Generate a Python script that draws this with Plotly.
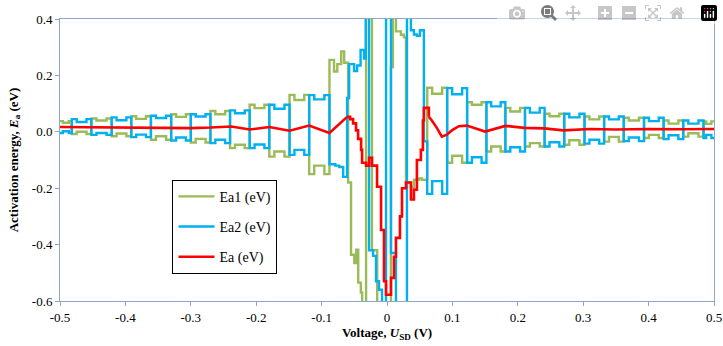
import plotly.graph_objects as go

# ---------------- data ----------------
# cell boundaries (V) of the alternating step pattern, left and right of the centre
left_bounds = [-0.5, -0.482, -0.452, -0.421, -0.391, -0.361, -0.330, -0.300,
               -0.270, -0.240, -0.210, -0.180, -0.149, -0.119, -0.088]
left_hi_edge = [0.038, 0.045, 0.047, 0.051, 0.055, 0.057, 0.062, 0.062,
                0.074, 0.076, 0.096, 0.096, 0.131, 0.130]
left_hi_mid = [0.032, 0.035, 0.040, 0.041, 0.046, 0.049, 0.053, 0.054,
               0.062, 0.066, 0.084, 0.082, 0.113, 0.115]
left_lo_edge = [-0.004, -0.008, -0.011, -0.016, -0.019, -0.028, -0.031, -0.038,
                -0.040, -0.058, -0.058, -0.088, -0.082, -0.150]
left_lo_mid = [0.002, 0.000, -0.004, -0.006, -0.010, -0.016, -0.020, -0.025,
               -0.028, -0.046, -0.045, -0.070, -0.064, -0.120]

right_bounds = [0.0615, 0.092, 0.1225, 0.152, 0.181, 0.211, 0.241, 0.271,
                0.302, 0.332, 0.362, 0.393, 0.423, 0.453, 0.484, 0.5]
right_hi_edge = [0.156, 0.155, 0.105, 0.105, 0.085, 0.085, 0.064, 0.064,
                 0.054, 0.054, 0.050, 0.050, 0.040, 0.040, 0.037]
right_hi_mid = [0.135, 0.133, 0.096, 0.090, 0.072, 0.068, 0.055, 0.051,
                0.044, 0.044, 0.040, 0.038, 0.029, 0.029, 0.028]
right_lo_edge = [-0.220, -0.110, -0.110, -0.070, -0.070, -0.052, -0.052, -0.046,
                 -0.042, -0.035, -0.033, -0.022, -0.026, -0.017, -0.022]
right_lo_mid = [-0.175, -0.085, -0.090, -0.052, -0.055, -0.040, -0.037, -0.030,
                -0.028, -0.018, -0.020, -0.011, -0.012, -0.005, -0.011]

# centre region, explicit steps (values beyond the axis range run off the plot)
ea1_center_v = [-0.088, -0.081, -0.076, -0.070, -0.0655, -0.0595, -0.055, -0.050,
                -0.047, -0.044, -0.040, -0.038, -0.032, -0.023, -0.015, 0.006,
                0.009, 0.0137, 0.0213, 0.0259, 0.029, 0.0366, 0.0412, 0.0488, 0.0534]
ea1_center_e = [0.255, 0.214, 0.240, 0.285, 0.245, -0.180, -0.436, -0.465,
                -0.418, -0.535, -0.570, -0.800, 0.600, -0.420, -0.800, 0.230,
                0.600, 0.356, 0.344, 0.335, -0.180, -0.195, -0.170, -0.165, -0.170]

ea2_center_v = [-0.088, -0.079, -0.073, -0.067, -0.061, -0.0579, -0.0503, -0.0457,
                -0.0404, -0.0351, -0.0325, -0.0274, -0.0213, -0.0168, -0.0122,
                -0.0076, -0.0015, 0.0061, 0.0137, 0.0305, 0.0366, 0.0412,
                0.0457, 0.0503, 0.0564]
ea2_center_e = [-0.115, -0.120, -0.125, -0.160, 0.120, 0.240, 0.215, 0.235,
                0.290, 0.260, 0.600, -0.420, -0.440, -0.530, -0.560,
                -0.800, 0.600, -0.430, -0.800, 0.600, 0.360, 0.345,
                0.340, 0.360, -0.034]

ea_v = [-0.5, -0.46, -0.42, -0.38, -0.34, -0.30, -0.27, -0.238, -0.21, -0.18,
        -0.149, -0.119, -0.088, -0.061,
        -0.0564, -0.0518, -0.0473, -0.0442, -0.0396, -0.0381, -0.032, -0.0274,
        -0.0229, -0.0152, -0.0091, -0.0046, -0.0015, 0.0061, 0.0107, 0.0137,
        0.0198, 0.0229, 0.029, 0.0366, 0.0412, 0.0457, 0.0518, 0.0549, 0.0564,
        0.064, 0.0686, 0.0762, 0.0838, 0.0915, 0.0991, 0.1098, 0.122, 0.15,
        0.181, 0.21, 0.24, 0.27, 0.31, 0.35, 0.40, 0.45, 0.5]
ea_e = [0.017, 0.016, 0.017, 0.015, 0.014, 0.013, 0.015, 0.019, 0.008, 0.017,
        0.004, 0.022, -0.004, 0.053,
        0.045, 0.030, 0.005, -0.025, -0.064, -0.110, -0.120, -0.092,
        -0.120, -0.195, -0.348, -0.530, -0.578, -0.518, -0.443, -0.376,
        -0.300, -0.200, -0.180, -0.240, -0.205, -0.100, -0.064, 0.040, 0.085,
        0.053, 0.040, 0.014, -0.017, -0.010, 0.005, 0.020, 0.022, 0.001,
        0.021, 0.014, 0.012, 0.005, 0.010, 0.008, 0.010, 0.009, 0.010]

x_tick_vals = [-0.5, -0.4, -0.3, -0.2, -0.1, 0.0, 0.1, 0.2, 0.3, 0.4, 0.5]
x_tick_text = ["-0.5", "-0.4", "-0.3", "-0.2", "-0.1", "0", "0.1", "0.2", "0.3", "0.4", "0.5"]
y_tick_vals = [-0.6, -0.4, -0.2, 0.0, 0.2, 0.4]
y_tick_text = ["-0.6", "-0.4", "-0.2", "0.0", "0.2", "0.4"]


# ---------------- build step series from the cell readings ----------------
def cells(bounds, hi_e, hi_m, lo_e, lo_m):
    gx, gy, bx, by = [], [], [], []
    for i in range(len(bounds) - 1):
        a, b = bounds[i], bounds[i + 1]
        w = b - a
        xs = [a, a + 0.25 * w, a + 0.75 * w]
        hi = [hi_e[i], hi_m[i], hi_e[i]]
        lo = [lo_e[i], lo_m[i], lo_e[i]]
        if i % 2 == 0:
            gy += hi; by += lo
        else:
            gy += lo; by += hi
        gx += xs; bx += xs
    return gx, gy, bx, by


lgx, lgy, lbx, lby = cells(left_bounds, left_hi_edge, left_hi_mid, left_lo_edge, left_lo_mid)
rgx, rgy, rbx, rby = cells(right_bounds, right_hi_edge, right_hi_mid, right_lo_edge, right_lo_mid)

ea1_x = lgx + ea1_center_v + rgx + [0.5]
ea1_y = lgy + ea1_center_e + rgy + [rgy[-1]]
ea2_x = lbx + ea2_center_v + rbx + [0.5]
ea2_y = lby + ea2_center_e + rby + [rby[-1]]

GREEN = "#9BBB59"
BLUE = "#00B0F0"
RED = "#FF0000"
FONT = "Liberation Serif"

fig = go.Figure()
fig.add_trace(go.Scatter(x=ea1_x, y=ea1_y, mode="lines", name="Ea1 (eV)",
                         line=dict(color=GREEN, width=2.4, shape="hv"),
                         legendgroup="g1"))
fig.add_trace(go.Scatter(x=ea2_x, y=ea2_y, mode="lines", name="Ea2 (eV)",
                         line=dict(color=BLUE, width=2.4, shape="hv"),
                         legendgroup="g2"))

# red: smooth outside, stair-like in the centre
i0 = ea_v.index(-0.061)
i1 = ea_v.index(0.064)
fig.add_trace(go.Scatter(x=ea_v[:i0 + 1], y=ea_e[:i0 + 1], mode="lines", name="Ea (eV)",
                         line=dict(color=RED, width=2.6), legendgroup="g3"))
fig.add_trace(go.Scatter(x=ea_v[i0:i1 + 1], y=ea_e[i0:i1 + 1], mode="lines", name="Ea (eV)",
                         line=dict(color=RED, width=2.6, shape="hv"),
                         legendgroup="g3", showlegend=False))
fig.add_trace(go.Scatter(x=ea_v[i1:], y=ea_e[i1:], mode="lines", name="Ea (eV)",
                         line=dict(color=RED, width=2.6), legendgroup="g3",
                         showlegend=False))

AXIS_COLOR = "#8EA6CC"
fig.update_layout(
    width=723, height=346,
    margin=dict(l=60, r=9, t=19, b=45, autoexpand=False),
    paper_bgcolor="white", plot_bgcolor="white",
    font=dict(family=FONT, size=13, color="black"),
    showlegend=True,
    legend=dict(x=0.172, y=0.43, xanchor="left", yanchor="top",
                bordercolor="black", borderwidth=1, bgcolor="white",
                font=dict(family=FONT, size=14, color="black"),
                tracegroupgap=9, traceorder="grouped", itemwidth=36),
    xaxis=dict(range=[-0.5, 0.5], tickvals=x_tick_vals, ticktext=x_tick_text,
               automargin=False, ticklabeloverflow="allow",
               showgrid=False, zeroline=False, showline=True, linecolor=AXIS_COLOR,
               linewidth=1, mirror=True, ticks="outside", ticklen=4,
               tickcolor=AXIS_COLOR, tickfont=dict(family=FONT, size=13),
               title=dict(text="<b>Voltage, <i>U</i><sub>SD</sub> (V)</b>",
                          font=dict(family=FONT, size=13), standoff=4)),
    yaxis=dict(range=[-0.6, 0.4], tickvals=y_tick_vals, ticktext=y_tick_text,
               automargin=False, ticklabeloverflow="allow",
               showgrid=False, zeroline=False, showline=True, linecolor=AXIS_COLOR,
               linewidth=1, mirror=True, ticks="outside", ticklen=4,
               tickcolor=AXIS_COLOR, tickfont=dict(family=FONT, size=13),
               title=dict(text="<b>Activation energy, <i>E</i><sub>a</sub> (eV)</b>",
                          font=dict(family=FONT, size=13), standoff=10)),
)

# remove the default 8 px page margin so the figure fills the window exactly
fig.write_html("out.html",
               post_script="document.body.style.margin='0';document.body.style.overflow='hidden';")
